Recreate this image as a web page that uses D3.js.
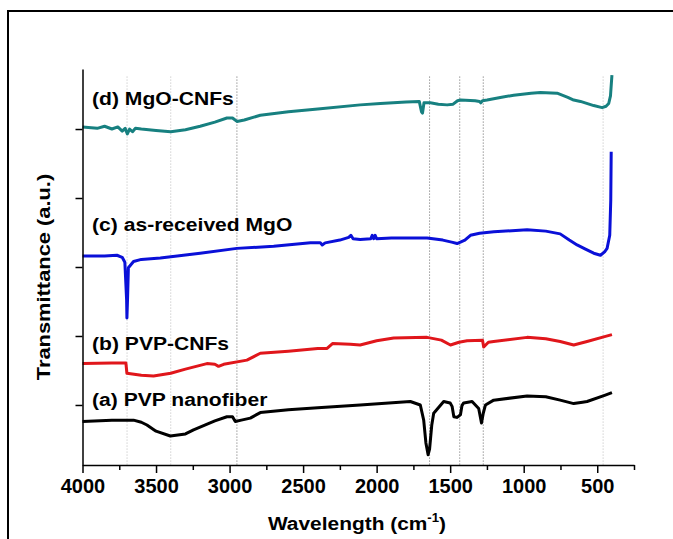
<!DOCTYPE html>
<html><head><meta charset="utf-8">
<script src="https://cdn.jsdelivr.net/npm/d3@7"></script>
<style>
body{margin:0;background:#fff;}
text{font-family:"Liberation Sans",Arial,sans-serif;font-weight:bold;fill:#000;}
</style></head>
<body><svg id="c" width="673" height="539"></svg>
<script>
// wavenumbers (cm-1) and transmittance (a.u.)
const waveA=[4000,3800,3653,3600,3562,3500,3403,3300,3245,3100,3018,2980,2961,2920,2859,2791,2600,2400,2112,1771,1703,1680,1665,1650,1640,1625,1612,1544,1500,1487,1475,1455,1440,1430,1420,1408,1351,1306,1287,1275,1260,1204,977,850,752,660,600,569,450,400];
const valA=[7.6,7.8,7.8,7.5,7.1,6.2,5.5,5.8,6.4,7.7,8.3,8.3,7.6,7.8,8.1,8.9,9.3,9.6,10.0,10.5,10.0,7.8,4.5,2.8,3.6,7.1,8.8,10.5,10.3,9.8,8.3,8.2,8.4,8.6,9.9,10.3,10.5,9.5,7.4,8.8,10.0,10.7,11.3,11.2,10.7,10.2,10.4,10.5,11.4,11.8];
const waveB=[4000,3800,3705,3698,3600,3517,3400,3300,3154,3100,3075,3040,2882,2791,2600,2400,2337,2300,2179,2112,2000,1884,1657,1560,1498,1440,1385,1280,1272,1240,1204,977,850,752,660,569,450,400];
const valB=[16.0,16.1,16.1,14.6,14.3,14.2,14.6,15.2,16.0,15.9,15.6,15.9,16.5,17.5,17.8,18.2,18.2,18.9,18.8,18.7,19.3,19.7,19.8,19.4,18.7,19.1,19.3,19.4,18.4,19.1,19.2,19.8,19.6,19.2,18.7,19.2,19.9,20.2];
const waveC=[4000,3850,3766,3730,3712,3700,3698,3694,3688,3653,3600,3471,3200,2950,2700,2450,2383,2370,2350,2250,2190,2175,2160,2112,2040,2030,2020,2010,2000,1900,1750,1657,1550,1490,1453,1400,1362,1300,1203,977,850,752,690,637,580,524,478,450,433,415,408,405];
const valC=[31.6,31.6,31.7,31.4,30.7,25.2,22.6,25.2,29.9,30.8,31.1,31.3,32.0,32.7,33.0,33.5,33.5,33.2,33.5,33.9,34.3,34.6,34.1,34.0,34.1,34.6,34.1,34.6,34.1,34.2,34.2,34.2,33.9,33.6,33.4,33.9,34.6,34.9,35.1,35.4,35.2,34.8,33.9,33.2,32.6,32.0,31.7,32.2,32.7,34.6,39.7,46.7];
const waveD=[4000,3900,3850,3800,3760,3730,3710,3695,3680,3660,3640,3600,3500,3400,3300,3200,3100,3018,2980,2950,2900,2791,2600,2400,2112,1974,1800,1710,1695,1688,1678,1635,1580,1521,1480,1450,1430,1330,1300,1292,1280,1249,1150,1068,950,886,773,700,660,614,524,467,440,422,410,400];
const valD=[50.3,50.1,50.4,50.0,50.3,49.7,50.1,49.3,50.0,49.6,50.1,50.0,49.8,49.6,49.9,50.4,51.0,51.6,51.6,51.1,51.3,52.0,52.5,52.9,53.5,53.7,53.9,54.0,52.5,52.3,53.8,53.8,53.6,53.5,53.6,54.1,54.2,54.1,54.0,53.8,54.1,54.2,54.6,54.9,55.2,55.3,55.2,54.6,54.2,54.0,53.4,53.1,53.3,53.7,54.8,57.8];
const seriesNames=["(a) PVP nanofiber","(b) PVP-CNFs","(c) as-received MgO","(d) MgO-CNFs"];
const seriesColors=["#000000","#e0161b","#0a10d8","#178080"];
const labelVals=[9.9,18.0,35.2,53.5];
const refLines=[3697,3400,2950,1640,1435,1275,460];
const refDark=[false,false,true,true,true,true,false];
const xMajor=[4000,3500,3000,2500,2000,1500,1000,500];
const xMinor=[3750,3250,2750,2250,1750,1250,750,250];
const yTicks=[10,20,30,40,50];

const svg=d3.select("#c");
svg.append("rect").attr("x",8).attr("y",11).attr("width",700).attr("height",600)
  .attr("fill","none").attr("stroke","#000").attr("stroke-width",2);

const L=82.5,R=634,T=69,B=465;
const x=d3.scaleLinear().domain([4000,250]).range([L,R]);
const y=d3.scaleLinear().domain([1.3,58.7]).range([B,T]);

// reference dotted lines
svg.append("g").selectAll("line").data(refLines).join("line")
  .attr("x1",d=>x(d)).attr("x2",d=>x(d)).attr("y1",y(57.6)).attr("y2",B)
  .attr("stroke",(d,i)=>refDark[i]?"#666":"#bbb").attr("stroke-width",1).attr("stroke-dasharray","1,2");

const data=[[waveA,valA],[waveB,valB],[waveC,valC],[waveD,valD]];
data.forEach((s,i)=>{
  const pts=s[0].map((w,j)=>[w,s[1][j]]);
  svg.append("path").datum(pts).attr("d",d3.line().x(d=>x(d[0])).y(d=>y(d[1])))
    .attr("fill","none").attr("stroke",seriesColors[i]).attr("stroke-width",3).attr("stroke-linejoin","round");
});

// axes
const gx=svg.append("g").attr("transform",`translate(0,${B})`);
gx.call(d3.axisBottom(x).tickValues(xMinor).tickSize(5).tickSizeOuter(0).tickFormat(""));
gx.call(g=>g.select(".domain").remove());
const gx2=svg.append("g").attr("transform",`translate(0,${B})`);
gx2.call(d3.axisBottom(x).tickValues(xMajor).tickSize(8).tickSizeOuter(0).tickPadding(6).tickFormat(d3.format("d")));
gx2.selectAll("line").attr("stroke-width",1.5);
gx.selectAll("line").attr("stroke-width",1.5);
gx2.select(".domain").attr("stroke-width",1.5);
gx2.selectAll("text").attr("font-size",20).attr("font-family","Liberation Sans, Arial").attr("font-weight","bold");

const gy=svg.append("g").attr("transform",`translate(${L},0)`);
gy.call(d3.axisLeft(y).tickValues(yTicks).tickSize(7).tickSizeOuter(0).tickFormat(""));
gy.selectAll("line,path").attr("stroke-width",1.5);

// labels
svg.append("g").selectAll("text").data(seriesNames).join("text")
  .attr("transform",(d,i)=>`translate(${x(3935)},${y(labelVals[i])}) scale(1.11,1)`)
  .attr("font-size",19).text(d=>d);

svg.append("text").attr("transform",`translate(50,277) rotate(-90) scale(1.15,1)`).attr("text-anchor","middle")
  .attr("font-size",19).text("Transmittance (a.u.)");
const xl=svg.append("text").attr("transform","translate(357,530) scale(1.1,1)").attr("text-anchor","middle").attr("font-size",19);
xl.append("tspan").text("Wavelength (cm");
xl.append("tspan").attr("dy",-8).attr("font-size",12).text("-1");
xl.append("tspan").attr("dy",8).text(")");
</script></body></html>
